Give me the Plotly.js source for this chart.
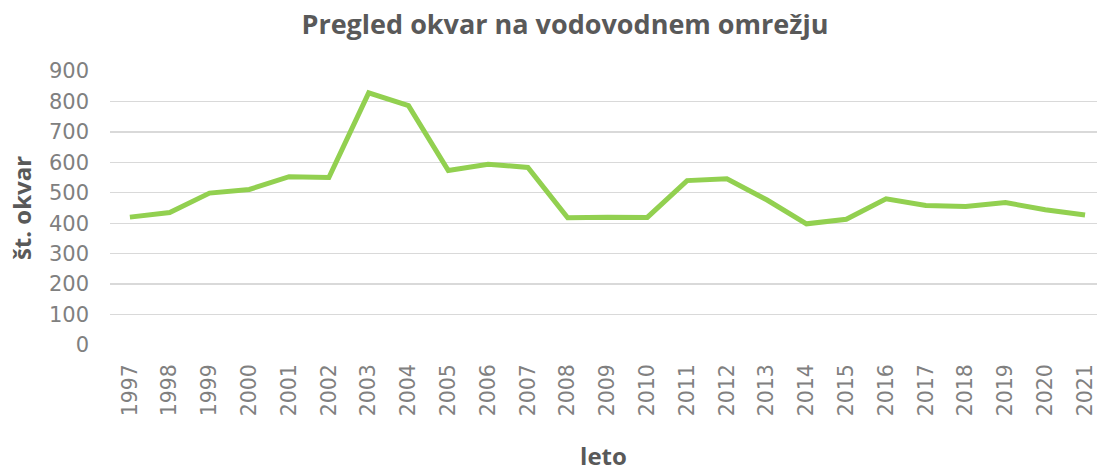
<!DOCTYPE html>
<html>
<head>
<meta charset="utf-8">
<script src="https://cdn.plot.ly/plotly-3.0.1.min.js"></script>
<style>html,body{margin:0;padding:0;background:#fff;}#chart{width:1097px;height:472px;}</style>
</head>
<body>
<div id="chart"></div>
<script>
const years = ["1997","1998","1999","2000","2001","2002","2003","2004","2005","2006","2007","2008","2009","2010","2011","2012","2013","2014","2015","2016","2017","2018","2019","2020","2021"];
const failures = [420,435,499,511,553,550,828,786,573,594,583,418,420,419,540,546,477,398,413,480,458,455,468,444,427];
const yTicks = [0,100,200,300,400,500,600,700,800,900];

const trace = {
  x: years,
  y: failures,
  type: 'scatter',
  mode: 'lines',
  line: {color: '#92D050', width: 5, shape: 'linear'},
  hoverinfo: 'x+y'
};

const layout = {
  width: 1097, height: 472,
  margin: {l: 110, r: 0, t: 71, b: 127},
  paper_bgcolor: '#ffffff', plot_bgcolor: '#ffffff',
  font: {family: 'Open Sans, sans-serif', color: '#595959'},
  title: {text: '<b>Pregled okvar na vodovodnem omrežju</b>', x: 0.515, xanchor: 'center', y: 0.947, yanchor: 'middle', font: {size: 27, color: '#595959', family: 'Open Sans, sans-serif'}},
  showlegend: false,
  xaxis: {
    type: 'category',
    range: [-0.5, 24.3],
    tickangle: -90,
    tickfont: {size: 20.5, color: '#808080', family: 'DejaVu Sans, sans-serif'},
    showgrid: false, zeroline: false, showline: false, ticks: '',
    ticklabelstandoff: 14,
    title: {text: '<b>leto</b>', font: {size: 24, color: '#595959'}, standoff: 46}
  },
  yaxis: {
    range: [0, 900],
    tickvals: yTicks,
    ticktext: yTicks.map(String),
    tickfont: {size: 21, color: '#808080', family: 'DejaVu Sans, sans-serif'},
    showgrid: true, gridcolor: '#d9d9d9', gridwidth: 1.3,
    zeroline: false, showline: false, ticks: '',
    ticklabelstandoff: 20,
    title: {text: '<b>št. okvar</b>', font: {size: 24, color: '#595959'}, standoff: 10}
  }
};

Plotly.newPlot('chart', [trace], layout, {displayModeBar: false, staticPlot: true});
</script>
</body>
</html>
